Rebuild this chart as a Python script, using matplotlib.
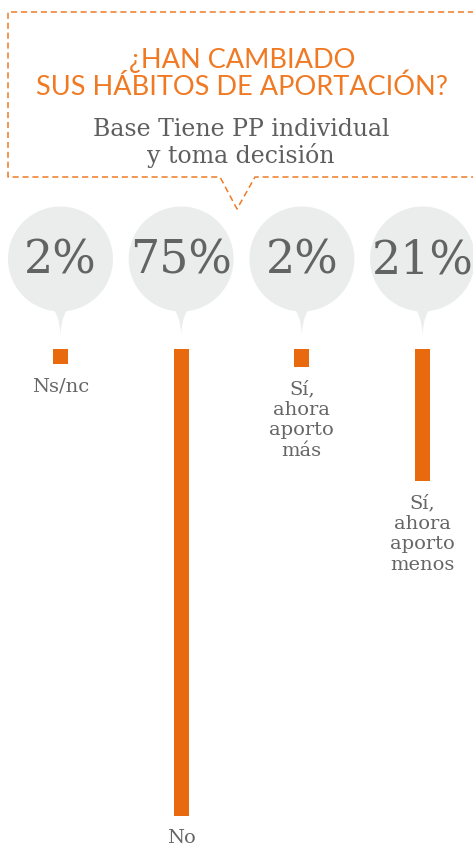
import matplotlib
matplotlib.use('Agg')
import matplotlib.pyplot as plt
from matplotlib.patches import Circle, PathPatch
from matplotlib.path import Path

# Data
categories = ['Ns/nc', 'No', 'Sí,\nahora\naporto\nmás', 'Sí,\nahora\naporto\nmenos']
pct_labels = ['2%', '75%', '2%', '21%']
values = [2.4, 75, 2.9, 21.2]

title = '¿HAN CAMBIADO\nSUS HÁBITOS DE APORTACIÓN?'
subtitle = 'Base Tiene PP individual\ny toma decisión'

ORANGE = '#E8690E'
TITLE_ORANGE = '#F07A24'
GREY_BG = '#EBECEC'
TEXT_GREY = '#5E5E5E'
LABEL_GREY = '#666666'

W, H = 473, 848


def draw_chart():
    fig = plt.figure(figsize=(W / 100, H / 100), dpi=100)

    # pixel-space axes for decoration
    bg = fig.add_axes([0, 0, 1, 1])
    bg.set_xlim(0, W)
    bg.set_ylim(H, 0)
    bg.axis('off')

    # data axes for the bars (percent units, hanging downwards)
    ax = fig.add_axes([0, 0, 1, 1])
    ax.set_xlim(-0.501, 3.418)
    ax.set_ylim(80.14, -56.05)
    ax.axis('off')

    ax.bar(range(len(values)), values, width=0.124, color=ORANGE, zorder=3)

    for i, (cat, v) in enumerate(zip(categories, values)):
        ax.annotate(cat, (i, v), xytext=(0, -9.5), textcoords='offset points',
                    ha='center', va='top', fontsize=14, color=LABEL_GREY,
                    family='DejaVu Serif', linespacing=1.18, multialignment='center')

    # speech-bubble circles with the percentages
    to_bg = bg.transData.inverted()
    cy, r = 259, 52.5
    for i, lab in enumerate(pct_labels):
        cx = to_bg.transform(ax.transData.transform((i, 0)))[0]
        bg.add_patch(Circle((cx, cy), r, color=GREY_BG, zorder=1, lw=0))
        tail = Path([(cx - 11, cy + r - 6), (cx - 1, cy + r + 1), (cx, cy + r + 23),
                     (cx + 1, cy + r + 1), (cx + 11, cy + r - 6), (cx - 11, cy + r - 6)],
                    [Path.MOVETO, Path.CURVE3, Path.CURVE3, Path.CURVE3, Path.CURVE3,
                     Path.CLOSEPOLY])
        bg.add_patch(PathPatch(tail, color=GREY_BG, lw=0, zorder=1))
        bg.text(cx, cy + 2, lab, ha='center', va='center', fontsize=33,
                color='#636363', family='DejaVu Serif', zorder=2)

    # dashed title box with pointer
    box_x = [480, 8, 8, 220, 237, 255, 480]
    box_y = [12, 12, 177, 177, 209, 177, 177]
    bg.plot(box_x, box_y, color=TITLE_ORANGE, lw=1.1, dashes=(4, 2.5), clip_on=False)

    bg.text(242, 74, title, ha='center', va='center', fontsize=19.5,
            color=TITLE_ORANGE, family='Lato', linespacing=1.12)
    bg.text(241, 143, subtitle, ha='center', va='center', fontsize=17,
            color=TEXT_GREY, family='DejaVu Serif', linespacing=1.1)

    fig.savefig('out.png', dpi=100)
    plt.close(fig)


if __name__ == '__main__':
    draw_chart()
